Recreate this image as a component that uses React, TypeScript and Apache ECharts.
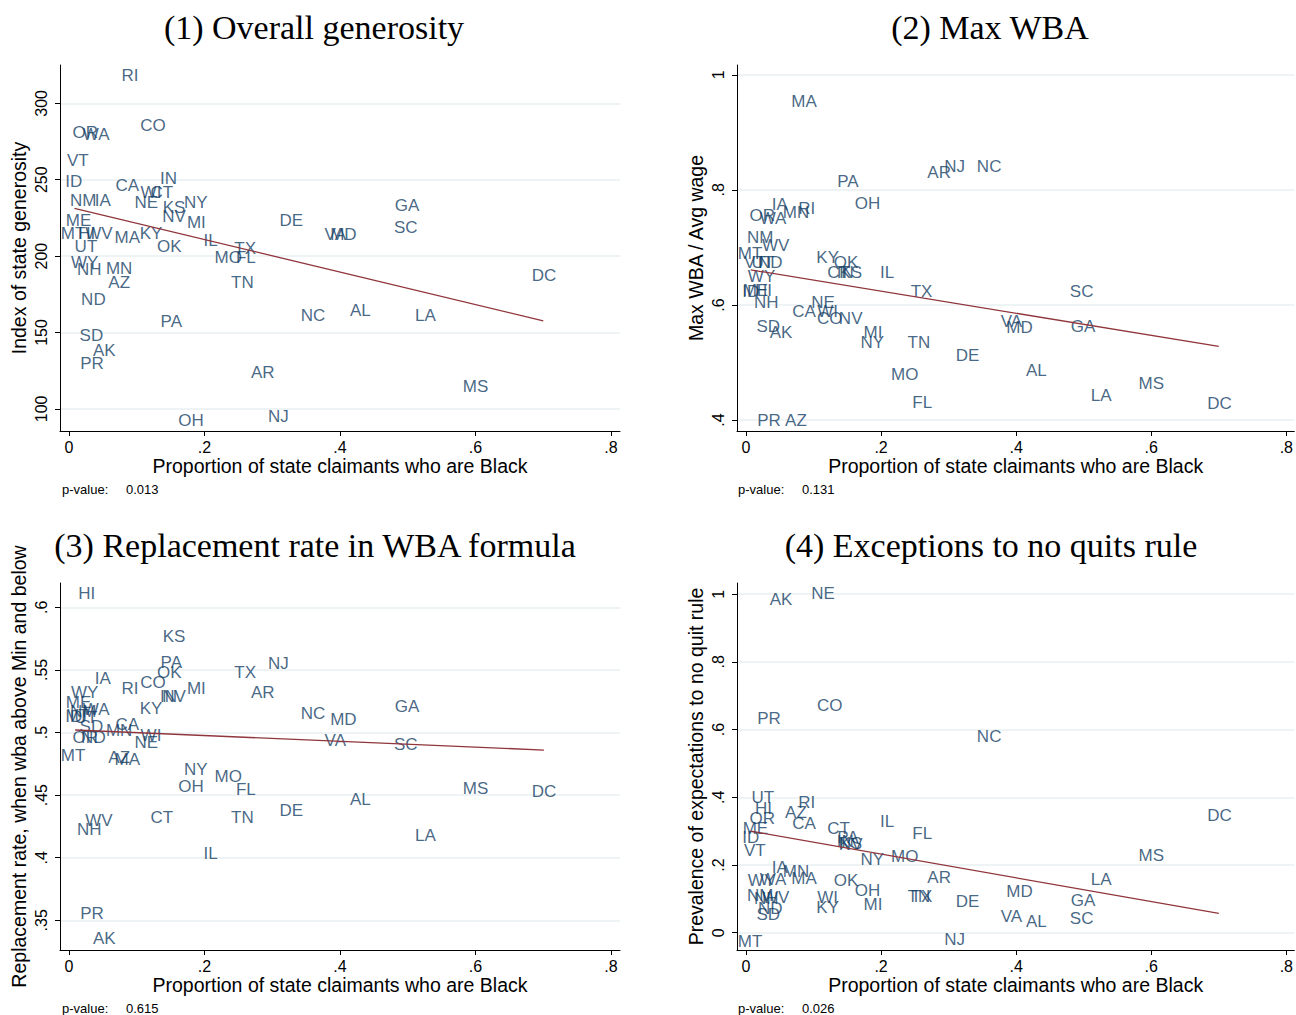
import React, { useEffect, useRef } from "react";
import * as echarts from "echarts";

// State postal codes (50 states, DC and Puerto Rico)
const states = [
  "AK", "AL", "AR", "AZ", "CA", "CO", "CT", "DC", "DE", "FL", "GA", "HI", "IA",
  "ID", "IL", "IN", "KS", "KY", "LA", "MA", "MD", "ME", "MI", "MN", "MO", "MS",
  "MT", "NC", "ND", "NE", "NH", "NJ", "NM", "NV", "NY", "OH", "OK", "OR", "PA",
  "PR", "RI", "SC", "SD", "TN", "TX", "UT", "VA", "VT", "WA", "WI", "WV", "WY",
];

// Proportion of state UI claimants who are Black
const shareBlack = [
  0.052, 0.430, 0.286, 0.074, 0.086, 0.124, 0.137, 0.701, 0.328, 0.261, 0.499, 0.026, 0.050,
  0.007, 0.209, 0.147, 0.155, 0.121, 0.526, 0.086, 0.405, 0.014, 0.188, 0.074, 0.235, 0.600,
  0.006, 0.360, 0.036, 0.114, 0.030, 0.309, 0.021, 0.155, 0.187, 0.180, 0.148, 0.024, 0.151,
  0.034, 0.090, 0.497, 0.033, 0.256, 0.260, 0.025, 0.393, 0.013, 0.040, 0.121, 0.044, 0.023,
];

// (1) Index of state generosity
const generosity = [
  137.9, 164.1, 123.5, 183.0, 245.9, 285.8, 241.9, 187.6, 223.0, 199.4, 232.8, 215.1, 236.7,
  249.1, 210.5, 251.1, 232.1, 215.1, 160.8, 212.5, 214.1, 223.6, 222.3, 192.2, 199.4, 114.7,
  215.1, 160.8, 171.9, 235.4, 190.9, 95.3, 236.7, 225.6, 235.4, 92.1, 206.0, 281.2, 156.9,
  129.4, 318.5, 218.4, 147.7, 183.0, 205.3, 206.0, 214.1, 262.9, 279.3, 241.9, 215.1, 196.1,
];

// (2) Max WBA / average wage
const maxWbaRatio = [
  0.553, 0.487, 0.830, 0.400, 0.588, 0.576, 0.657, 0.428, 0.513, 0.431, 0.563, 0.626, 0.774,
  0.624, 0.657, 0.657, 0.657, 0.682, 0.442, 0.953, 0.560, 0.626, 0.553, 0.760, 0.480, 0.464,
  0.689, 0.840, 0.673, 0.605, 0.605, 0.840, 0.718, 0.576, 0.534, 0.776, 0.673, 0.755, 0.814,
  0.400, 0.767, 0.624, 0.562, 0.534, 0.623, 0.673, 0.572, 0.673, 0.750, 0.588, 0.703, 0.650,
];

// (3) Replacement rate in the WBA formula
const replacementRate = [
  0.3351, 0.4461, 0.5316, 0.4804, 0.5060, 0.5403, 0.4325, 0.4525, 0.4381, 0.4541, 0.5204, 0.6114, 0.5435,
  0.5124, 0.4030, 0.5284, 0.5763, 0.5188, 0.4181, 0.4788, 0.5100, 0.5236, 0.5355, 0.5020, 0.4645, 0.4549,
  0.4820, 0.5148, 0.4964, 0.4924, 0.4229, 0.5555, 0.5164, 0.5284, 0.4708, 0.4565, 0.5483, 0.4964, 0.5563,
  0.3558, 0.5355, 0.4908, 0.5044, 0.4325, 0.5483, 0.5116, 0.4940, 0.5132, 0.5180, 0.4980, 0.4301, 0.5316,
];

// (4) Prevalence of exceptions to the no-quits rule
const quitExceptions = [
  0.983, 0.032, 0.162, 0.354, 0.324, 0.670, 0.309, 0.345, 0.091, 0.292, 0.094, 0.368, 0.194,
  0.280, 0.330, 0.268, 0.265, 0.076, 0.156, 0.159, 0.123, 0.309, 0.082, 0.182, 0.224, 0.227,
  -0.025, 0.581, 0.073, 1.001, 0.100, -0.019, 0.111, 0.262, 0.215, 0.126, 0.153, 0.336, 0.280,
  0.634, 0.386, 0.043, 0.055, 0.106, 0.106, 0.398, 0.047, 0.244, 0.156, 0.103, 0.103, 0.153,
];

// Linear fit endpoints [x, y] for each panel
const fitGenerosity = [[0.008, 231.3], [0.700, 157.6]];
const fitMaxWba = [[0.007, 0.661], [0.700, 0.528]];
const fitReplacement = [[0.009, 0.502], [0.701, 0.486]];
const fitQuits = [[0.007, 0.300], [0.700, 0.057]];

// Axis tick values
const xTicks = [0, 0.2, 0.4, 0.6, 0.8];
const yTicksGenerosity = [100, 150, 200, 250, 300];
const yTicksMaxWba = [0.4, 0.6, 0.8, 1];
const yTicksReplacement = [0.35, 0.4, 0.45, 0.5, 0.55, 0.6];
const yTicksQuits = [0, 0.2, 0.4, 0.6, 0.8, 1];

const titles = [
  "(1) Overall generosity",
  "(2) Max WBA",
  "(3) Replacement rate in WBA formula",
  "(4) Exceptions to no quits rule",
];
const yNames = [
  "Index of state generosity",
  "Max WBA / Avg wage",
  "Replacement rate, when wba above Min and below",
  "Prevalence of expectations to no quit rule",
];
const pValues = ["0.013", "0.131", "0.615", "0.026"];
const xName = "Proportion of state claimants who are Black";

const NAVY = "#163f66";
const MAROON = "#90353b";
const GRID = "#e9f1f3";
const SANS = '"Liberation Sans", Arial, sans-serif';
const SERIF = '"Liberation Serif", "Times New Roman", serif';

const fmt = (v: number) => {
  if (v === 0) return "0";
  return String(v).replace(/^0\./, ".").replace(/^-0\./, "-.");
};

export default function App() {
  const ref = useRef<HTMLDivElement>(null);

  useEffect(() => {
    document.body.style.margin = "0";
    if (!ref.current) return;
    const chart = echarts.init(ref.current, undefined, { renderer: "svg" });

    const panelValues = [generosity, maxWbaRatio, replacementRate, quitExceptions];
    const fits = [fitGenerosity, fitMaxWba, fitReplacement, fitQuits];
    const yTicks = [yTicksGenerosity, yTicksMaxWba, yTicksReplacement, yTicksQuits];
    const yRanges = [
      [85.5, 325.1],
      [0.381, 1.017],
      [0.3263, 0.6194],
      [-0.051, 1.033],
    ];
    const grids = [
      { left: 60, top: 65, width: 560, height: 366 },
      { left: 737, top: 65, width: 559, height: 366 },
      { left: 60, top: 583, width: 560, height: 367 },
      { left: 737, top: 583, width: 559, height: 367 },
    ];
    const xMin = -0.0133;
    const pxPerUnit = 677.5;

    const xAxis = grids.map((g, i) => ({
      type: "value",
      gridIndex: i,
      min: xMin,
      max: xMin + g.width / pxPerUnit,
      name: xName,
      nameLocation: "middle",
      nameGap: 25,
      nameTextStyle: { fontFamily: SANS, fontSize: 19.5, color: "#000" },
      axisLine: { show: true, onZero: false, lineStyle: { color: "#000", width: 1 } },
      axisTick: { show: true, length: 5, customValues: xTicks, lineStyle: { color: "#000" } },
      axisLabel: {
        show: true,
        customValues: xTicks,
        formatter: fmt,
        margin: 8,
        fontFamily: SANS,
        fontSize: 16,
        color: "#000",
      },
      splitLine: { show: false },
    }));

    const yAxis = grids.map((_, i) => ({
      type: "value",
      gridIndex: i,
      min: yRanges[i][0],
      max: yRanges[i][1],
      name: yNames[i],
      nameLocation: "middle",
      nameGap: 31,
      nameRotate: 90,
      nameTextStyle: { fontFamily: SANS, fontSize: 19.5, color: "#000" },
      axisLine: { show: true, onZero: false, lineStyle: { color: "#000", width: 1 } },
      axisTick: { show: true, length: 5, customValues: yTicks[i], lineStyle: { color: "#000" } },
      axisLabel: {
        show: true,
        customValues: yTicks[i],
        formatter: fmt,
        rotate: 90,
        margin: 11,
        fontFamily: SANS,
        fontSize: 16,
        color: "#000",
      },
      splitLine: { show: true, lineStyle: { color: GRID, width: 1.5 } },
    }));

    const series: any[] = [];
    panelValues.forEach((vals, i) => {
      series.push({
        type: "scatter",
        xAxisIndex: i,
        yAxisIndex: i,
        symbolSize: 1,
        silent: true,
        itemStyle: { color: "rgba(0,0,0,0)" },
        label: {
          show: true,
          position: "inside",
          formatter: "{b}",
          color: NAVY,
          fontFamily: SANS,
          fontSize: 17,
        },
        emphasis: { disabled: true },
        data: states.map((s, k) => ({ name: s, value: [shareBlack[k], vals[k]] })),
      });
    });
    fits.forEach((f, i) => {
      series.push({
        type: "line",
        xAxisIndex: i,
        yAxisIndex: i,
        symbol: "none",
        silent: true,
        lineStyle: { color: MAROON, width: 1.3 },
        data: f,
      });
    });

    const titlePos = [
      [314, 27],
      [990, 27],
      [315, 545],
      [991, 545],
    ];
    const pPos = [
      [62, 489],
      [738, 489],
      [62, 1008],
      [738, 1008],
    ];
    const graphic: any[] = [];
    titles.forEach((t, i) => {
      graphic.push({
        type: "text",
        x: titlePos[i][0],
        y: titlePos[i][1],
        style: {
          text: t,
          font: `34px ${SERIF}`,
          fill: "#000",
          textAlign: "center",
          textVerticalAlign: "middle",
        },
      });
    });
    pValues.forEach((p, i) => {
      graphic.push({
        type: "text",
        x: pPos[i][0],
        y: pPos[i][1],
        style: { text: "p-value:", font: `13px ${SANS}`, fill: "#000", textVerticalAlign: "middle" },
      });
      graphic.push({
        type: "text",
        x: pPos[i][0] + 64,
        y: pPos[i][1],
        style: { text: p, font: `13px ${SANS}`, fill: "#000", textVerticalAlign: "middle" },
      });
    });

    chart.setOption({
      animation: false,
      backgroundColor: "#fff",
      grid: grids.map((g) => ({ ...g, containLabel: false })),
      xAxis,
      yAxis,
      series,
      graphic,
    });

    return () => chart.dispose();
  }, []);

  return <div ref={ref} style={{ width: 1296, height: 1015 }} />;
}
